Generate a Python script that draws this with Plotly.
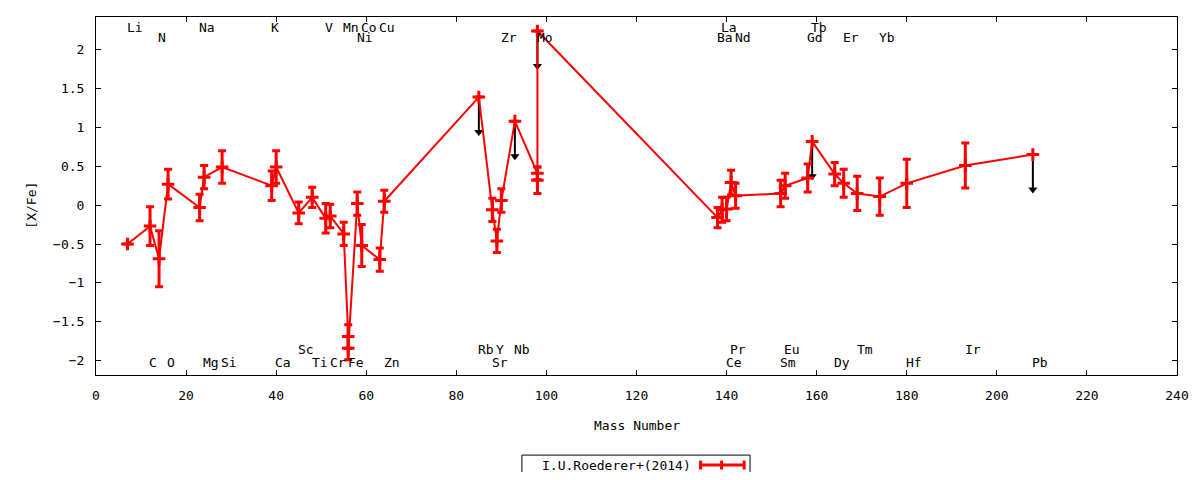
import plotly.graph_objects as go

# [X/Fe] vs mass number, I.U.Roederer+(2014)
mass = [7, 12, 14, 16, 23, 24, 28, 39, 40, 45,
        48, 51, 52, 55, 56, 56, 58, 59, 63, 64,
        85, 88, 89, 90, 93, 98, 98, 98,
        138, 139, 140, 141, 142, 152, 153, 158, 159, 164,
        166, 169, 174, 180, 193, 208]
xfe = [-0.50, -0.27, -0.69, 0.27, -0.03, 0.36, 0.49, 0.25, 0.49, -0.10,
       0.10, -0.17, -0.14, -0.37, -1.69, -1.84, 0.02, -0.52, -0.70, 0.05,
       1.39, -0.06, -0.46, 0.06, 1.08, 0.41, 0.32, 2.24,
       -0.16, -0.06, -0.05, 0.29, 0.12, 0.15, 0.25, 0.35, 0.82, 0.40,
       0.28, 0.15, 0.11, 0.28, 0.51, 0.65]
err = [0, 0.25, 0.36, 0.19, 0.17, 0.15, 0.21, 0.19, 0.21, 0.14,
       0.13, 0.19, 0.15, 0.15, 0.15, 0.15, 0.15, 0.27, 0.15, 0.14,
       0, 0.15, 0.15, 0.15, 0, 0.08, 0.17, 0,
       0.13, 0.16, 0.15, 0.16, 0.16, 0.17, 0.16, 0.18, 0, 0.15,
       0.18, 0.22, 0.24, 0.31, 0.29, 0]

# upper limits (drawn as down arrows)
ul_mass = [85, 93, 98, 159, 208]
ul_value = [1.39, 1.08, 2.24, 0.82, 0.65]
ul_len = 0.5

# element labels: (name, mass) for each of the four rows
top1 = [("Li", 7), ("Na", 23), ("K", 39), ("V", 51), ("Mn", 55), ("Co", 59),
        ("Cu", 63), ("La", 139), ("Tb", 159)]
top2 = [("N", 14), ("Ni", 58), ("Zr", 90), ("Mo", 98), ("Ba", 138), ("Nd", 142),
        ("Gd", 158), ("Er", 166), ("Yb", 174)]
bot1 = [("Sc", 45), ("Rb", 85), ("Y", 89), ("Nb", 93), ("Pr", 141), ("Eu", 153),
        ("Tm", 169), ("Ir", 193)]
bot2 = [("C", 12), ("O", 16), ("Mg", 24), ("Si", 28), ("Ca", 40), ("Ti", 48),
        ("Cr", 52), ("Fe", 56), ("Zn", 64), ("Sr", 88), ("Ce", 140), ("Sm", 152),
        ("Dy", 164), ("Hf", 180), ("Pb", 208)]
row_y = [2.29, 2.16, -1.86, -2.03]

FONT = "DejaVu Sans Mono"

fig = go.Figure()

# arrows first so the red line sits on top
sx, sy = [], []
for m, v in zip(ul_mass, ul_value):
    sx += [m, m, None]
    sy += [v, v - ul_len + 0.06, None]
fig.add_trace(go.Scatter(x=sx, y=sy, mode="lines",
                         line=dict(color="black", width=2),
                         showlegend=False, hoverinfo="skip"))
fig.add_trace(go.Scatter(x=ul_mass, y=[v - ul_len + 0.05 for v in ul_value],
                         mode="markers",
                         marker=dict(symbol="triangle-down", size=8, color="black"),
                         showlegend=False, hoverinfo="skip"))

fig.add_trace(go.Scatter(
    x=mass, y=xfe, mode="lines+markers",
    line=dict(color="red", width=2),
    marker=dict(symbol="cross-thin", size=9, color="red",
                line=dict(color="red", width=3)),
    error_y=dict(type="data", array=err, color="red", thickness=3, width=4),
    showlegend=False,
))

for rows, yy in zip([top1, top2, bot1, bot2], row_y):
    for name, m in rows:
        fig.add_annotation(x=m - 0.6, y=yy, text=name, showarrow=False,
                           xanchor="left", yanchor="middle",
                           font=dict(family=FONT, size=13, color="black"))

# axis titles
fig.add_annotation(x=0.5, y=-0.14, xref="paper", yref="paper", text="Mass Number",
                   xanchor="center", yanchor="middle", showarrow=False,
                   font=dict(family=FONT, size=13, color="black"))
fig.add_annotation(x=-0.0595, y=0.475, xref="paper", yref="paper", text="[X/Fe]",
                   xanchor="center", yanchor="middle",
                   textangle=-90, showarrow=False,
                   font=dict(family=FONT, size=13, color="black"))

# legend box drawn gnuplot-style: text then line sample
fig.add_shape(type="rect", xref="paper", yref="paper",
              x0=0.394, x1=0.605, y0=-0.2796, y1=-0.2237,
              line=dict(color="black", width=1), fillcolor="white")
fig.add_annotation(x=0.552, y=-0.2516, xref="paper", yref="paper",
                   text="I.U.Roederer+(2014)", xanchor="right", yanchor="middle",
                   showarrow=False,
                   font=dict(family=FONT, size=13, color="black"))
fig.add_shape(type="line", xref="paper", yref="paper",
              x0=0.5593, x1=0.5996, y0=-0.2516, y1=-0.2516,
              line=dict(color="red", width=3))
for xp in [0.5593, 0.5787, 0.5996]:
    fig.add_shape(type="line", xref="paper", yref="paper",
                  x0=xp, x1=xp, y0=-0.2641, y1=-0.2391,
                  line=dict(color="red", width=3))

axis_common = dict(showgrid=False, zeroline=False, showline=True,
                   linecolor="black", linewidth=1, mirror="ticks",
                   ticks="inside", ticklen=5, tickcolor="black", automargin=False,
                   tickfont=dict(family=FONT, size=13, color="black"))
fig.update_xaxes(range=[0, 240], dtick=20, tick0=0, ticklabelstandoff=8, **axis_common)
fig.update_yaxes(range=[-2.185, 2.42], dtick=0.5, tick0=0, ticklabelstandoff=8,
                 **axis_common)

# page body has an 8px margin, so the figure is shifted and sized to fit
fig.update_layout(
    width=1184, height=464,
    margin=dict(l=88, r=15, t=9, b=97),
    plot_bgcolor="white", paper_bgcolor="white",
    font=dict(family=FONT, size=13, color="black"),
)

fig.write_html("out.html")
